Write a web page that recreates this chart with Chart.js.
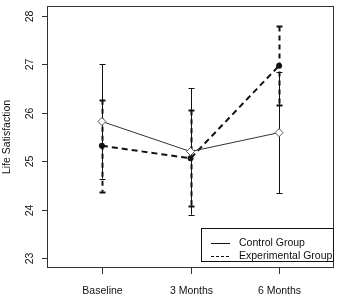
<!DOCTYPE html>
<html>
<head>
<meta charset="utf-8">
<script src="https://cdn.jsdelivr.net/npm/chart.js@4/dist/chart.umd.min.js"></script>
<style>
  html, body { margin: 0; padding: 0; background: #fff; }
  #wrap { width: 340px; height: 296px; position: relative; }
</style>
</head>
<body>
<div id="wrap"><canvas id="lifeChart"></canvas></div>
<script>
// time points and group summaries (mean, error bar half-width)
const timepoints = ['Baseline', '3 Months', '6 Months'];
const controlMean = [25.82, 25.20, 25.59];
const controlErr = [1.18, 1.30, 1.25];
const experimentalMean = [25.32, 25.06, 26.97];
const experimentalErr = [0.95, 0.99, 0.81];
const yTicks = [23, 24, 25, 26, 27, 28];
const FONT = '10.5px "Liberation Sans", Arial, sans-serif';

function toPoints(means) {
  return means.map(function(v, i) { return { x: i + 1, y: v }; });
}

// R-style frame, axes, error bars and legend
const basePlot = {
  id: 'basePlot',
  beforeDatasetsDraw: function(chart) {
    const ctx = chart.ctx;
    const xs = chart.scales.x, ys = chart.scales.y;
    ctx.save();

    // error bars
    function bars(means, errs, dashed) {
      ctx.strokeStyle = '#111';
      ctx.lineWidth = dashed ? 2 : 1;
      ctx.setLineDash(dashed ? [5, 4] : []);
      means.forEach(function(m, i) {
        const px = Math.round(xs.getPixelForValue(i + 1)) + 0.5;
        const top = ys.getPixelForValue(m + errs[i]);
        const bot = ys.getPixelForValue(m - errs[i]);
        ctx.beginPath();
        ctx.moveTo(px, top);
        ctx.lineTo(px, bot);
        ctx.stroke();
      });
      ctx.setLineDash([]);
      means.forEach(function(m, i) {
        const px = Math.round(xs.getPixelForValue(i + 1)) + 0.5;
        [m + errs[i], m - errs[i]].forEach(function(v) {
          const py = Math.round(ys.getPixelForValue(v)) + 0.5;
          ctx.beginPath();
          ctx.moveTo(px - 3, py);
          ctx.lineTo(px + 3, py);
          ctx.stroke();
        });
      });
    }
    bars(controlMean, controlErr, false);
    bars(experimentalMean, experimentalErr, true);
    ctx.restore();
  },
  afterDraw: function(chart) {
    const ctx = chart.ctx;
    const xs = chart.scales.x, ys = chart.scales.y;
    const a = chart.chartArea;
    ctx.save();
    ctx.strokeStyle = '#333';
    ctx.lineWidth = 1;
    ctx.strokeRect(Math.round(a.left) + 0.5, Math.round(a.top) + 0.5,
      Math.round(a.right - a.left) - 1, Math.round(a.bottom - a.top) - 1);

    ctx.fillStyle = '#111';
    ctx.font = FONT;

    // x axis ticks + labels
    ctx.textAlign = 'center';
    ctx.textBaseline = 'middle';
    timepoints.forEach(function(t, i) {
      const px = Math.round(xs.getPixelForValue(i + 1)) + 0.5;
      ctx.beginPath();
      ctx.moveTo(px, a.bottom);
      ctx.lineTo(px, a.bottom + 6);
      ctx.stroke();
      ctx.fillText(t, px, a.bottom + 23);
    });

    // y axis ticks + vertical labels
    yTicks.forEach(function(v) {
      const py = Math.round(ys.getPixelForValue(v)) + 0.5;
      ctx.beginPath();
      ctx.moveTo(a.left - 5, py);
      ctx.lineTo(a.left, py);
      ctx.stroke();
      ctx.save();
      ctx.translate(a.left - 17, py);
      ctx.rotate(-Math.PI / 2);
      ctx.fillText(String(v), 0, 0);
      ctx.restore();
    });

    ctx.save();
    ctx.translate(7, (a.top + a.bottom) / 2);
    ctx.rotate(-Math.PI / 2);
    ctx.fillText('Life Satisfaction', 0, 0);
    ctx.restore();

    // legend
    const lx = 201, ly = 228, lw = a.right - 201, lh = 34;
    ctx.fillStyle = '#fff';
    ctx.fillRect(lx, ly, lw, lh);
    ctx.strokeStyle = '#111';
    ctx.strokeRect(lx + 0.5, ly + 0.5, lw - 1, lh - 1);
    ctx.fillStyle = '#111';
    ctx.textAlign = 'left';
    ctx.beginPath();
    ctx.moveTo(211, 243.5);
    ctx.lineTo(230, 243.5);
    ctx.stroke();
    ctx.setLineDash([3, 2]);
    ctx.beginPath();
    ctx.moveTo(211, 256.5);
    ctx.lineTo(230, 256.5);
    ctx.stroke();
    ctx.setLineDash([]);
    ctx.fillText('Control Group', 239, 243);
    ctx.fillText('Experimental Group', 239, 256);
    ctx.restore();
  }
};

new Chart(document.getElementById('lifeChart').getContext('2d'), {
  type: 'line',
  data: {
    datasets: [{
      label: 'Control Group',
      data: toPoints(controlMean),
      borderColor: '#333',
      borderWidth: 1,
      pointStyle: 'rectRot',
      pointRadius: 4,
      pointBackgroundColor: '#fff',
      pointBorderColor: '#555',
      pointBorderWidth: 1,
      tension: 0
    }, {
      label: 'Experimental Group',
      data: toPoints(experimentalMean),
      borderColor: '#111',
      borderWidth: 2,
      borderDash: [6, 4],
      pointStyle: 'circle',
      pointRadius: 2,
      pointBackgroundColor: '#111',
      pointBorderColor: '#111',
      tension: 0
    }]
  },
  options: {
    responsive: true,
    maintainAspectRatio: false,
    animation: false,
    layout: { padding: { left: 47, top: 4, right: 4, bottom: 28 } },
    scales: {
      x: { type: 'linear', min: 0.38, max: 3.62, display: false },
      y: { type: 'linear', min: 22.8, max: 28.2, display: false }
    },
    plugins: {
      legend: { display: false },
      tooltip: { enabled: false }
    }
  },
  plugins: [basePlot]
});
</script>
</body>
</html>
